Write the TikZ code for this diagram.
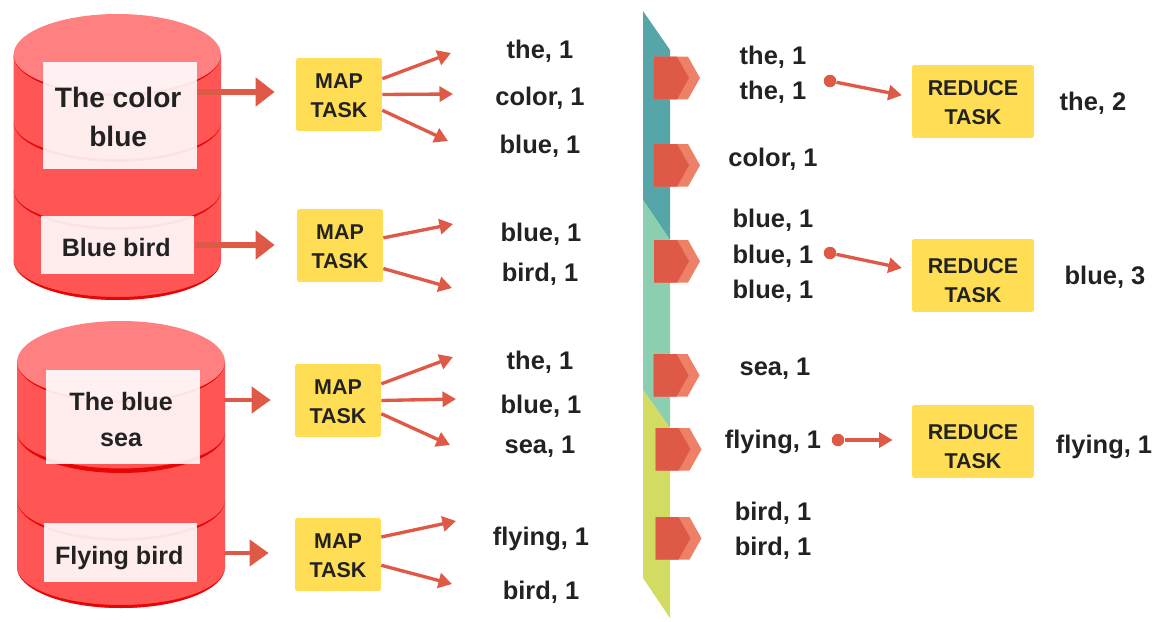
\documentclass[tikz,border=0pt]{standalone}
\usepackage{fontspec}
\setmainfont{Liberation Sans}
\usetikzlibrary{arrows.meta}
\definecolor{tomato}{HTML}{DE5A46}
\definecolor{tomatolight}{HTML}{EE8068}
\definecolor{diskbody}{HTML}{FF5555}
\definecolor{disktop}{HTML}{FF8080}
\definecolor{diskrim}{HTML}{E60606}
\definecolor{taskyellow}{HTML}{FFDD55}
\definecolor{wordink}{HTML}{222222}
\definecolor{bandteal}{HTML}{56A5A9}
\definecolor{bandgreen}{HTML}{8CCFB0}
\definecolor{bandlime}{HTML}{D2DC63}
\newcommand{\textdrop}[1]{\rule{0pt}{#1}}
\tikzset{
  diskside/.style={fill=diskbody},
  disklid/.style={fill=disktop},
  diskedge/.style={fill=diskrim},
  sourcebox/.style={fill=white, fill opacity=0.89, text opacity=1, text=wordink, font=\bfseries\fontsize{14.3}{20.5}\selectfont, align=center, minimum width=3.08cm, inner sep=0pt},
  taskbox/.style={fill=taskyellow, rounded corners=1pt, text=wordink, font=\bfseries\fontsize{12.2}{16.5}\selectfont, align=center, inner sep=0pt, minimum height=1.46cm},
  wordlabel/.style={text=wordink, font=\bfseries\fontsize{14.5}{16}\selectfont, inner sep=1pt},
  feedarrow/.style={draw=tomato, line width=2.9pt, -{Triangle[length=0.38cm, width=0.56cm]}},
  feedarrowsmall/.style={draw=tomato, line width=2.3pt, -{Triangle[length=0.38cm, width=0.52cm]}},
  emitarrow/.style={draw=tomato, line width=1.9pt, -{Triangle[length=0.27cm, width=0.3cm]}},
  dotmark/.style={circle, fill=tomato, minimum size=0.25cm, inner sep=0pt},
  taglight/.style={fill=tomatolight},
  tagdark/.style={fill=tomato},
}
\begin{document}
\begin{tikzpicture}[x=0.02cm, y=-0.02cm]
\useasboundingbox (0,0) rectangle (1157,622);
\fill[diskside] (13.5,55) -- (13.5,260) arc[start angle=180, end angle=0, x radius=103.75, y radius=40] -- (221,55) -- cycle;
\fill[diskedge] (13.5,260) arc[start angle=180, end angle=0, x radius=103.75, y radius=40] arc[start angle=0, end angle=180, x radius=103.75, y radius=37];
\fill[diskedge] (13.5,190) arc[start angle=180, end angle=0, x radius=103.75, y radius=40] arc[start angle=0, end angle=180, x radius=103.75, y radius=37];
\fill[diskedge] (13.5,122) arc[start angle=180, end angle=0, x radius=103.75, y radius=40] arc[start angle=0, end angle=180, x radius=103.75, y radius=37];
\fill[disklid] (117.25,55) ellipse[x radius=103.75, y radius=41];
\fill[diskedge] (13.5,55) arc[start angle=180, end angle=0, x radius=103.75, y radius=41] arc[start angle=0, end angle=180, x radius=103.75, y radius=38.5];
\fill[diskside] (17,362) -- (17,567) arc[start angle=180, end angle=0, x radius=104, y radius=41] -- (225,362) -- cycle;
\fill[diskedge] (17,567) arc[start angle=180, end angle=0, x radius=104, y radius=41] arc[start angle=0, end angle=180, x radius=104, y radius=38];
\fill[diskedge] (17,500) arc[start angle=180, end angle=0, x radius=104, y radius=41] arc[start angle=0, end angle=180, x radius=104, y radius=38];
\fill[diskedge] (17,432) arc[start angle=180, end angle=0, x radius=104, y radius=41] arc[start angle=0, end angle=180, x radius=104, y radius=36.5];
\fill[disklid] (121,362) ellipse[x radius=104, y radius=41];
\fill[diskedge] (17,362) arc[start angle=180, end angle=0, x radius=104, y radius=41] arc[start angle=0, end angle=180, x radius=104, y radius=38.5];
\fill[bandteal] (643,11) -- (670,50) -- (670,240) -- (643,200) -- cycle;
\fill[bandgreen] (643,200) -- (670,240) -- (670,428) -- (643,390) -- cycle;
\fill[bandlime] (643,390) -- (670,428) -- (670,618) -- (643,578) -- cycle;
\fill[taglight] (654,56.7) -- ++(34,0) -- ++(12,21.3) -- ++(-12,21.3) -- ++(-34,0) -- cycle;
\fill[tagdark] (654,56.7) -- ++(23,0) -- ++(12,21.3) -- ++(-12,21.3) -- ++(-23,0) -- cycle;
\fill[taglight] (654,144) -- ++(34,0) -- ++(12,21.3) -- ++(-12,21.3) -- ++(-34,0) -- cycle;
\fill[tagdark] (654,144) -- ++(23,0) -- ++(12,21.3) -- ++(-12,21.3) -- ++(-23,0) -- cycle;
\fill[taglight] (654,240) -- ++(34,0) -- ++(12,21.3) -- ++(-12,21.3) -- ++(-34,0) -- cycle;
\fill[tagdark] (654,240) -- ++(23,0) -- ++(12,21.3) -- ++(-12,21.3) -- ++(-23,0) -- cycle;
\fill[taglight] (653.5,354) -- ++(34,0) -- ++(12,21.3) -- ++(-12,21.3) -- ++(-34,0) -- cycle;
\fill[tagdark] (653.5,354) -- ++(23,0) -- ++(12,21.3) -- ++(-12,21.3) -- ++(-23,0) -- cycle;
\fill[taglight] (655.5,428) -- ++(34,0) -- ++(12,21.3) -- ++(-12,21.3) -- ++(-34,0) -- cycle;
\fill[tagdark] (655.5,428) -- ++(23,0) -- ++(12,21.3) -- ++(-12,21.3) -- ++(-23,0) -- cycle;
\fill[taglight] (655.5,517) -- ++(34,0) -- ++(12,21.3) -- ++(-12,21.3) -- ++(-34,0) -- cycle;
\fill[tagdark] (655.5,517) -- ++(23,0) -- ++(12,21.3) -- ++(-12,21.3) -- ++(-23,0) -- cycle;
\node[sourcebox, minimum height=2.14cm, font=\bfseries\fontsize{16}{22.5}\selectfont] (sourceA) at (120,115.5) {\textdrop{0.84em}\hspace{-0.13em}The color\\\hspace{-0.13em}blue};
\node[sourcebox, minimum height=1.16cm] (sourceB) at (117.5,245) {\textdrop{0.89em}\hspace{-0.1em}Blue bird};
\node[sourcebox, minimum height=1.88cm] (sourceC) at (123,417) {\textdrop{0.93em}\hspace{-0.15em}The blue\\\hspace{-0.15em}sea};
\node[sourcebox, minimum height=1.18cm] (sourceD) at (120.5,552.5) {\textdrop{1.13em}\hspace{-0.1em}Flying bird};
\node[taskbox, minimum width=1.72cm] (mapA) at (339,94.5) {\textdrop{0.83em}MAP\\TASK};
\node[taskbox, minimum width=1.72cm] (mapB) at (340,245.5) {\textdrop{0.82em}MAP\\TASK};
\node[taskbox, minimum width=1.72cm] (mapC) at (338,400.5) {\textdrop{0.83em}MAP\\TASK};
\node[taskbox, minimum width=1.72cm] (mapD) at (338,554.5) {\textdrop{0.82em}MAP\\TASK};
\node[taskbox, minimum width=2.44cm] (reduceA) at (973,101.5) {\textdrop{0.82em}REDUCE\\TASK};
\node[taskbox, minimum width=2.44cm] (reduceB) at (973,275.5) {\textdrop{1.17em}REDUCE\\TASK};
\node[taskbox, minimum width=2.44cm] (reduceC) at (973,441.5) {\textdrop{1.14em}REDUCE\\TASK};
\coordinate (feedA) at (197,92);
\coordinate (feedC) at (225,400);
\coordinate (feedD) at (225,553);
\draw[feedarrow, shorten >=0.42cm] (feedA) -- (mapA.west |- feedA);
\draw[feedarrow, shorten >=0.44cm] (sourceB.east) -- (mapB.west |- sourceB.east);
\draw[feedarrowsmall, shorten >=0.48cm] (feedC) -- (mapC.west |- feedC);
\draw[feedarrowsmall, shorten >=0.52cm] (feedD) -- (mapD.west |- feedD);
\node[wordlabel] (mapwordA) at (540,51) {the, 1};
\node[wordlabel] (mapwordB) at (540,98) {color, 1};
\node[wordlabel] (mapwordC) at (540,146) {blue, 1};
\node[wordlabel] (mapwordD) at (541,234) {blue, 1};
\node[wordlabel] (mapwordE) at (540,274) {bird, 1};
\node[wordlabel] (mapwordF) at (540,362) {the, 1};
\node[wordlabel] (mapwordG) at (541,406) {blue, 1};
\node[wordlabel] (mapwordH) at (540,447) {sea, 1};
\node[wordlabel] (mapwordI) at (541,539) {flying, 1};
\node[wordlabel] (mapwordJ) at (541,592) {bird, 1};
\coordinate (emitA) at (451,53);
\coordinate (emitB) at (453,94);
\coordinate (emitC) at (448,141);
\coordinate (emitD) at (453,224);
\coordinate (emitE) at (452,288);
\coordinate (emitF) at (453,357);
\coordinate (emitG) at (456,399);
\coordinate (emitH) at (450,445);
\coordinate (emitI) at (456,521);
\coordinate (emitJ) at (452,584);
\draw[emitarrow] (mapA.20) -- (emitA);
\draw[emitarrow] (mapA.0) -- (emitB);
\draw[emitarrow] (mapA.-20) -- (emitC);
\draw[emitarrow] (mapB.10) -- (emitD);
\draw[emitarrow] (mapB.-28) -- (emitE);
\draw[emitarrow] (mapC.21) -- (emitF);
\draw[emitarrow] (mapC.0) -- (emitG);
\draw[emitarrow] (mapC.-17) -- (emitH);
\draw[emitarrow] (mapD.22) -- (emitI);
\draw[emitarrow] (mapD.-14) -- (emitJ);
\node[wordlabel] (sortedA) at (773,57) {the, 1};
\node[wordlabel] (sortedB) at (773,92) {the, 1};
\node[wordlabel] (sortedC) at (773,159) {color, 1};
\node[wordlabel] (sortedD) at (773,220) {blue, 1};
\node[wordlabel] (sortedE) at (773,256) {blue, 1};
\node[wordlabel] (sortedF) at (773,291) {blue, 1};
\node[wordlabel] (sortedG) at (775,369) {sea, 1};
\node[wordlabel] (sortedH) at (773,442) {flying, 1};
\node[wordlabel] (sortedI) at (773,513) {bird, 1};
\node[wordlabel] (sortedJ) at (773,548) {bird, 1};
\node[dotmark] (dotA) at (830,81) {};
\node[dotmark] (dotB) at (830,253) {};
\node[dotmark] (dotC) at (838,440) {};
\draw[emitarrow, shorten >=0.2cm] (dotA) -- (reduceA.176);
\draw[emitarrow, shorten >=0.2cm] (dotB) -- (reduceB.175);
\draw[emitarrow, shorten >=0.38cm] (dotC) -- (reduceC.west |- dotC);
\node[wordlabel] (totalA) at (1093,103) {the, 2};
\node[wordlabel] (totalB) at (1105,277) {blue, 3};
\node[wordlabel] (totalC) at (1104,447) {flying, 1};
\end{tikzpicture}
\end{document}
